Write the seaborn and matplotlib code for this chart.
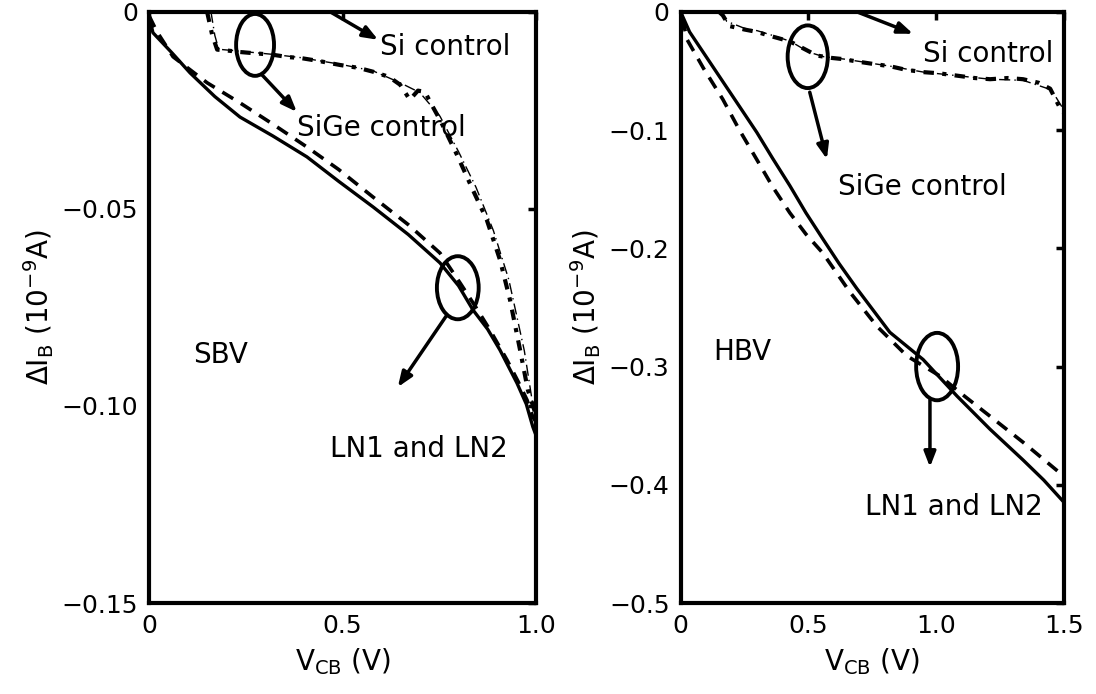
import matplotlib
matplotlib.use("Agg")
import matplotlib.pyplot as plt
from matplotlib.patches import Ellipse
import seaborn as sns
import numpy as np

# ---------------- data ----------------
# SBV panel
sbv_ln1_x = [0.0, 0.01, 0.06, 0.106, 0.17, 0.235, 0.32, 0.408, 0.49, 0.579, 0.67, 0.752, 0.80, 0.837, 0.875, 0.907, 0.951, 0.975, 0.992, 1.0]
sbv_ln1_y = [-0.001, -0.0053, -0.0105, -0.0155, -0.0215, -0.0267, -0.0315, -0.0368, -0.043, -0.0495, -0.0565, -0.0637, -0.0695, -0.0756, -0.0805, -0.0858, -0.0942, -0.0995, -0.1053, -0.1074]
sbv_ln2_x = [0.0, 0.02, 0.062, 0.15, 0.235, 0.32, 0.408, 0.49, 0.579, 0.67, 0.752, 0.804, 0.845, 0.881, 0.925, 0.955, 0.977, 0.992, 1.0]
sbv_ln2_y = [-0.001, -0.005, -0.0114, -0.018, -0.0231, -0.0285, -0.0343, -0.040, -0.0470, -0.054, -0.0612, -0.0688, -0.075, -0.0807, -0.0883, -0.094, -0.0985, -0.1028, -0.104]
sbv_si_x = [0.15, 0.163, 0.176, 0.20, 0.235, 0.27, 0.32, 0.36, 0.39, 0.44, 0.494, 0.54, 0.579, 0.62, 0.649, 0.674, 0.695, 0.713, 0.73, 0.752, 0.796, 0.837, 0.873, 0.907, 0.933, 0.959, 0.979, 1.0]
sbv_si_y = [0.0, -0.0058, -0.0096, -0.0098, -0.0102, -0.0105, -0.0109, -0.0115, -0.0117, -0.0125, -0.0135, -0.0142, -0.0152, -0.0165, -0.0185, -0.0223, -0.0200, -0.0203, -0.0235, -0.0274, -0.0363, -0.0452, -0.0528, -0.0629, -0.0731, -0.0858, -0.0959, -0.1023]
sbv_sige_x = [0.16, 0.17, 0.18, 0.235, 0.32, 0.39, 0.494, 0.579, 0.649, 0.70, 0.752, 0.80, 0.845, 0.89, 0.93, 0.97, 0.99, 1.0]
sbv_sige_y = [0.0, -0.006, -0.0095, -0.0100, -0.0108, -0.0116, -0.0133, -0.0150, -0.0180, -0.0205, -0.0265, -0.0355, -0.0445, -0.0555, -0.0680, -0.0860, -0.0985, -0.1035]

# HBV panel
hbv_ln1_x = [0.0, 0.035, 0.10, 0.165, 0.23, 0.298, 0.36, 0.427, 0.49, 0.556, 0.62, 0.689, 0.818, 0.948, 1.081, 1.21, 1.339, 1.42, 1.5]
hbv_ln1_y = [0.0, -0.017, -0.038, -0.059, -0.080, -0.102, -0.124, -0.147, -0.170, -0.192, -0.213, -0.234, -0.271, -0.294, -0.325, -0.353, -0.379, -0.396, -0.415]
hbv_ln2_x = [0.008, 0.024, 0.09, 0.165, 0.23, 0.298, 0.36, 0.427, 0.49, 0.556, 0.662, 0.768, 0.885, 1.014, 1.11, 1.21, 1.339, 1.5]
hbv_ln2_y = [-0.006, -0.023, -0.048, -0.074, -0.100, -0.125, -0.148, -0.170, -0.188, -0.204, -0.237, -0.266, -0.291, -0.308, -0.325, -0.342, -0.364, -0.393]
hbv_si_x = [0.15, 0.165, 0.19, 0.25, 0.298, 0.36, 0.427, 0.48, 0.533, 0.59, 0.635, 0.689, 0.75, 0.818, 0.88, 0.948, 1.01, 1.081, 1.15, 1.21, 1.28, 1.339, 1.40, 1.445, 1.485, 1.5]
hbv_si_y = [0.0, -0.003, -0.012, -0.015, -0.017, -0.021, -0.025, -0.031, -0.037, -0.039, -0.040, -0.042, -0.044, -0.046, -0.049, -0.051, -0.052, -0.054, -0.056, -0.057, -0.056, -0.057, -0.060, -0.065, -0.082, -0.086]
hbv_sige_x = [0.16, 0.18, 0.25, 0.30, 0.36, 0.43, 0.50, 0.56, 0.64, 0.70, 0.82, 0.95, 1.08, 1.21, 1.34, 1.45, 1.49, 1.5]
hbv_sige_y = [0.0, -0.008, -0.014, -0.016, -0.020, -0.025, -0.034, -0.038, -0.040, -0.042, -0.046, -0.051, -0.054, -0.057, -0.058, -0.066, -0.080, -0.088]

sbv_xticks = [0, 0.5, 1.0]
sbv_xticklabels = ["0", "0.5", "1.0"]
sbv_yticks = [0, -0.05, -0.10, -0.15]
sbv_yticklabels = ["0", "\u22120.05", "\u22120.10", "\u22120.15"]
hbv_xticks = [0, 0.5, 1.0, 1.5]
hbv_xticklabels = ["0", "0.5", "1.0", "1.5"]
hbv_yticks = [0, -0.1, -0.2, -0.3, -0.4, -0.5]
hbv_yticklabels = ["0", "\u22120.1", "\u22120.2", "\u22120.3", "\u22120.4", "\u22120.5"]

# ---------------- style ----------------
sns.set_style("white")
plt.rcParams['font.family'] = ['DejaVu Sans']
plt.rcParams['mathtext.fontset'] = 'dejavusans'
plt.rcParams['text.color'] = 'black'
plt.rcParams['axes.labelcolor'] = 'black'
plt.rcParams['xtick.color'] = 'black'
plt.rcParams['ytick.color'] = 'black'

fig = plt.figure(figsize=(10.96, 6.94), dpi=100)
ax1 = fig.add_axes([0.136, 0.131, 0.353, 0.852])
ax2 = fig.add_axes([0.621, 0.131, 0.350, 0.852])

K = "black"
def draw(ax, ln1x, ln1y, ln2x, ln2y, six, siy, sgx, sgy):
    sns.lineplot(x=ln1x, y=ln1y, ax=ax, sort=False, estimator=None, color=K, lw=2.4, linestyle="-")
    sns.lineplot(x=ln2x, y=ln2y, ax=ax, sort=False, estimator=None, color=K, lw=2.6, linestyle=(0, (3.5, 2.5)))
    sns.lineplot(x=six, y=siy, ax=ax, sort=False, estimator=None, color=K, lw=3.0, linestyle=(0, (2.5, 2.0, 1.0, 2.0)))
    sns.lineplot(x=sgx, y=sgy, ax=ax, sort=False, estimator=None, color=K, lw=1.0, linestyle=(0, (8, 3, 1, 3)))

draw(ax1, sbv_ln1_x, sbv_ln1_y, sbv_ln2_x, sbv_ln2_y, sbv_si_x, sbv_si_y, sbv_sige_x, sbv_sige_y)
draw(ax2, hbv_ln1_x, hbv_ln1_y, hbv_ln2_x, hbv_ln2_y, hbv_si_x, hbv_si_y, hbv_sige_x, hbv_sige_y)

def setup(ax, xlim, ylim, xt, xtl, yt, ytl):
    ax.set_xlim(*xlim)
    ax.set_ylim(*ylim)
    ax.set_xticks(xt)
    ax.set_xticklabels(xtl)
    ax.set_yticks(yt)
    ax.set_yticklabels(ytl)
    for s in ax.spines.values():
        s.set_visible(True)
        s.set_linewidth(3.0)
        s.set_color(K)
    ax.tick_params(direction="in", length=6, width=2.5, top=True, right=True,
                   labelsize=18, pad=8, colors=K)
    ax.set_xlabel(r"V$_\mathregular{CB}$ (V)", fontsize=20, labelpad=6, color=K)
    ax.set_ylabel(r"$\Delta$I$_\mathregular{B}$ (10$^{-9}$A)", fontsize=20, labelpad=4, color=K)
    ax.grid(False)

setup(ax1, (0, 1.0), (-0.15, 0), sbv_xticks, sbv_xticklabels, sbv_yticks, sbv_yticklabels)
setup(ax2, (0, 1.5), (-0.5, 0), hbv_xticks, hbv_xticklabels, hbv_yticks, hbv_yticklabels)

arrow = dict(arrowstyle="-|>,head_length=0.9,head_width=0.35", lw=2.5, color=K, shrinkA=0, shrinkB=0)
tfs = 20

# SBV annotations
ax1.add_patch(Ellipse((0.274, -0.0084), 0.098, 0.0157, fill=False, lw=2.8, ec=K))
ax1.add_patch(Ellipse((0.798, -0.070), 0.108, 0.016, fill=False, lw=2.8, ec=K))
ax1.annotate("", xy=(0.592, -0.0071), xytext=(0.468, 0.0), arrowprops=arrow, annotation_clip=False)
ax1.annotate("", xy=(0.382, -0.0254), xytext=(0.292, -0.016), arrowprops=arrow)
ax1.annotate("", xy=(0.643, -0.0952), xytext=(0.770, -0.0769), arrowprops=arrow)
ax1.text(0.597, -0.0089, "Si control", fontsize=tfs, ha="left", va="center", color=K)
ax1.text(0.382, -0.0294, "SiGe control", fontsize=tfs, ha="left", va="center", color=K)
ax1.text(0.114, -0.087, "SBV", fontsize=tfs, ha="left", va="center", color=K)
ax1.text(0.468, -0.111, "LN1 and LN2", fontsize=tfs, ha="left", va="center", color=K)

# HBV annotations
ax2.add_patch(Ellipse((0.497, -0.038), 0.157, 0.053, fill=False, lw=2.8, ec=K))
ax2.add_patch(Ellipse((1.003, -0.300), 0.164, 0.057, fill=False, lw=2.8, ec=K))
ax2.annotate("", xy=(0.909, -0.0186), xytext=(0.689, 0.0), arrowprops=arrow, annotation_clip=False)
ax2.annotate("", xy=(0.572, -0.1246), xytext=(0.505, -0.068), arrowprops=arrow)
ax2.annotate("", xy=(0.975, -0.385), xytext=(0.975, -0.328), arrowprops=arrow)
ax2.text(0.948, -0.0356, "Si control", fontsize=tfs, ha="left", va="center", color=K)
ax2.text(0.615, -0.148, "SiGe control", fontsize=tfs, ha="left", va="center", color=K)
ax2.text(0.129, -0.288, "HBV", fontsize=tfs, ha="left", va="center", color=K)
ax2.text(0.721, -0.419, "LN1 and LN2", fontsize=tfs, ha="left", va="center", color=K)

fig.savefig("out.png", dpi=100)
